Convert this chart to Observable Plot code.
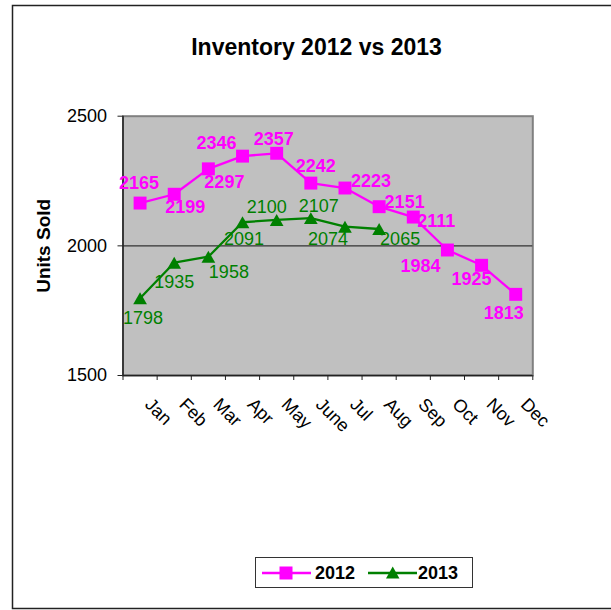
<!DOCTYPE html>
<html>
<head>
<meta charset="utf-8">
<script src="https://cdn.jsdelivr.net/npm/d3@7"></script>
<script src="https://cdn.jsdelivr.net/npm/@observablehq/plot@0.6"></script>
<style>
  html, body { margin: 0; padding: 0; background: #fff; overflow: hidden; }
  #wrap { position: relative; width: 611px; height: 610px; font-family: "Liberation Sans", Arial, sans-serif; }
  #wrap > * { position: absolute; left: 0; top: 0; }
</style>
</head>
<body>
<div id="wrap"></div>
<script>
// ---- data ----
const months = ["Jan", "Feb", "Mar", "Apr", "May", "June", "Jul", "Aug", "Sep", "Oct", "Nov", "Dec"];
const sales2012 = [2165, 2199, 2297, 2346, 2357, 2242, 2223, 2151, 2111, 1984, 1925, 1813];
const sales2013 = [1798, 1935, 1958, 2091, 2100, 2107, 2074, 2065];
const yTicks = [1500, 2000, 2500];
const seriesNames = ["2012", "2013"];
const titleText = "Inventory 2012 vs 2013";
const yTitle = "Units Sold";

// ---- label placement (layout only) ----
const labelDx2012 = [-1, 11, 16, -26, -3, 5, 26, 25.5, 23, -27, -10, -12];
const labelDy2012 = [-20, 13, 13, -13, -14, -17, -6.5, -4.5, 4.5, 16, 14, 19];
const labelDx2013 = [3, 0, 20.5, 1.5, -10, 8, -17, 21];
const labelDy2013 = [20, 19.5, 15.5, 17, -12.5, -11.5, 13, 10.5];

const magenta = "#ff00ff", green = "#008000";
const rows2012 = sales2012.map((v, i) => ({i, month: months[i], value: v}));
const rows2013 = sales2013.map((v, i) => ({i, month: months[i], value: v}));
const xc = d => d.i + 0.5;
const boundaries = d3.range(months.length + 1);
const centers = months.map((m, i) => i + 0.5);

const marks = [
  Plot.frame({fill: "#c0c0c0", stroke: "#808080", strokeWidth: 2}),
  Plot.ruleY([2000], {stroke: "#333", strokeWidth: 1.2}),
  Plot.ruleY([1500], {stroke: "#222", strokeWidth: 1.5}),
  Plot.ruleX([0], {stroke: "#222", strokeWidth: 1.5}),
  Plot.axisY(yTicks, {tickSize: 5, tickPadding: 11, tickFormat: d => String(d), label: null, stroke: "#222"}),
  Plot.axisX(boundaries, {tickSize: 5, tickFormat: () => "", label: null, stroke: "#222"}),
  Plot.axisX(centers, {tickSize: 0, tickPadding: 14, tickRotate: 45, dx: 8, dy: 12,
    tickFormat: c => months[Math.floor(c)], label: null}),
  Plot.text([yTitle], {frameAnchor: "left", textAnchor: "middle", rotate: -90, dx: -79, fontSize: 19, fontWeight: "bold", fill: "#000"}),
  Plot.line(rows2012, {x: xc, y: "value", stroke: magenta, strokeWidth: 2.3}),
  Plot.line(rows2013, {x: xc, y: "value", stroke: green, strokeWidth: 2.3}),
  Plot.dot(rows2012, {x: xc, y: "value", symbol: "square", r: 7.3, fill: magenta, stroke: "none"}),
  Plot.dot(rows2013, {x: xc, y: "value", symbol: "triangle", r: 5.1, fill: green, stroke: "none", dy: 2}),
  ...rows2012.map((d, k) => Plot.text([d], {x: xc, y: "value", text: d => String(d.value),
    dx: labelDx2012[k], dy: labelDy2012[k], fill: magenta, fontSize: 18, fontWeight: "bold"})),
  ...rows2013.map((d, k) => Plot.text([d], {x: xc, y: "value", text: d => String(d.value),
    dx: labelDx2013[k], dy: labelDy2013[k], fill: green, fontSize: 18}))
];

const chart = Plot.plot({
  width: 611,
  height: 610,
  marginLeft: 122.5,
  marginRight: 78.7,
  marginTop: 115.7,
  marginBottom: 235,
  style: {background: "transparent", fontFamily: "'Liberation Sans', Arial, sans-serif", fontSize: "18px", overflow: "visible", color: "#000"},
  x: {type: "linear", domain: [0, months.length]},
  y: {domain: [1500, 2500]},
  marks
});

// ---- chart chrome: border, title, legend ----
const NS = "http://www.w3.org/2000/svg";
const wrap = document.getElementById("wrap");
const deco = document.createElementNS(NS, "svg");
deco.setAttribute("width", 611);
deco.setAttribute("height", 610);
deco.innerHTML = `
  <path d="M640,5.5 H12.5 V608.5 H640" fill="none" stroke="#222" stroke-width="1.5"/>
`;
wrap.appendChild(deco);
wrap.appendChild(chart);

const over = document.createElementNS(NS, "svg");
over.setAttribute("width", 611);
over.setAttribute("height", 610);
over.style.fontFamily = "'Liberation Sans', Arial, sans-serif";
over.innerHTML = `
  <text x="316.5" y="55" text-anchor="middle" font-size="23" font-weight="bold" fill="#000">${titleText}</text>
  <rect x="255.5" y="557.5" width="217" height="30" fill="#fff" stroke="#333" stroke-width="1"/>
  <line x1="262" y1="573" x2="311" y2="573" stroke="${magenta}" stroke-width="2.3"/>
  <rect x="279.5" y="566.5" width="13" height="13" fill="${magenta}"/>
  <text x="315" y="578.5" font-size="18" font-weight="bold" fill="#000">${seriesNames[0]}</text>
  <line x1="368" y1="573" x2="417" y2="573" stroke="${green}" stroke-width="2.3"/>
  <path d="M392.7,566.5 L399.5,578.5 L386,578.5 Z" fill="${green}"/>
  <text x="418" y="578.5" font-size="18" font-weight="bold" fill="#000">${seriesNames[1]}</text>
`;
wrap.appendChild(over);
</script>
</body>
</html>
